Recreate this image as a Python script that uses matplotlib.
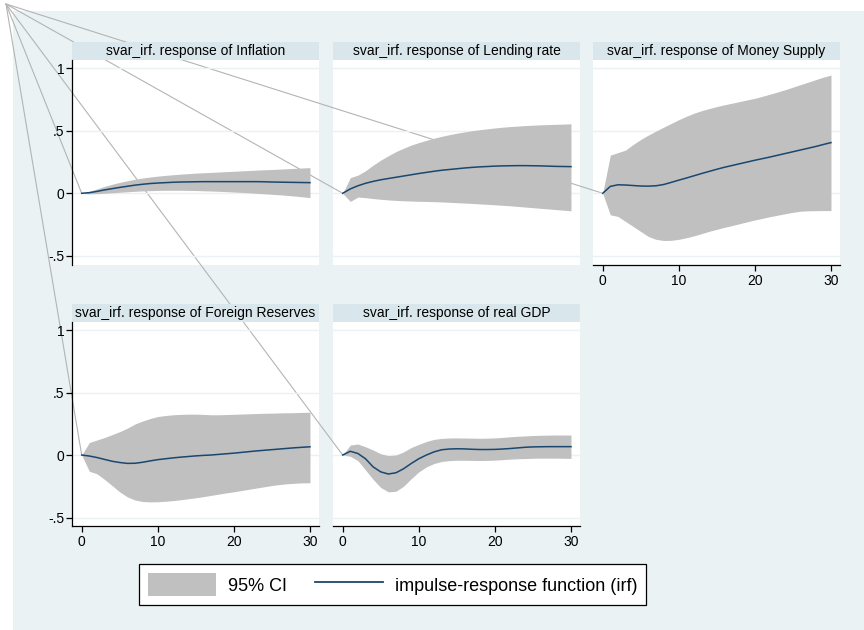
import matplotlib
matplotlib.use('Agg')
import matplotlib.pyplot as plt
from matplotlib.patches import Rectangle, ConnectionPatch, Patch
from matplotlib.lines import Line2D

plt.rcParams['font.family'] = ['Liberation Sans', 'DejaVu Sans']

# ---------------- data ----------------
steps = list(range(31))

titles = ["svar_irf. response of Inflation",
          "svar_irf. response of Lending rate",
          "svar_irf. response of Money Supply",
          "svar_irf. response of Foreign Reserves",
          "svar_irf. response of real GDP"]

irf_inflation = [0, 0.005, 0.015, 0.027, 0.037, 0.047, 0.056, 0.065, 0.072, 0.078, 0.082,
                 0.085, 0.088, 0.090, 0.091, 0.092, 0.093, 0.093, 0.093, 0.093, 0.093,
                 0.093, 0.093, 0.093, 0.092, 0.090, 0.089, 0.088, 0.087, 0.086, 0.085]
up_inflation = [0, 0.015, 0.035, 0.055, 0.072, 0.087, 0.100, 0.112, 0.122, 0.130, 0.137,
                0.143, 0.148, 0.153, 0.157, 0.161, 0.164, 0.167, 0.170, 0.173, 0.176,
                0.179, 0.182, 0.185, 0.188, 0.190, 0.193, 0.196, 0.199, 0.202, 0.205]
lo_inflation = [0, -0.005, -0.003, 0.000, 0.004, 0.008, 0.012, 0.016, 0.019, 0.021, 0.023,
                0.024, 0.024, 0.024, 0.023, 0.022, 0.020, 0.018, 0.016, 0.013, 0.010,
                0.007, 0.004, 0.000, -0.004, -0.008, -0.012, -0.017, -0.022, -0.028, -0.035]

irf_lending = [0, 0.035, 0.060, 0.080, 0.095, 0.108, 0.118, 0.128, 0.138, 0.148, 0.158,
               0.167, 0.176, 0.184, 0.190, 0.196, 0.202, 0.207, 0.211, 0.214, 0.217,
               0.219, 0.220, 0.221, 0.221, 0.220, 0.219, 0.217, 0.215, 0.214, 0.213]
up_lending = [0, 0.125, 0.145, 0.180, 0.225, 0.265, 0.300, 0.333, 0.360, 0.385, 0.405,
              0.423, 0.440, 0.455, 0.468, 0.480, 0.490, 0.500, 0.508, 0.515, 0.522,
              0.528, 0.533, 0.537, 0.541, 0.544, 0.547, 0.549, 0.551, 0.553, 0.555]
lo_lending = [0, -0.065, -0.030, -0.035, -0.042, -0.048, -0.053, -0.057, -0.060, -0.062, -0.064,
              -0.065, -0.067, -0.069, -0.072, -0.075, -0.078, -0.081, -0.085, -0.088, -0.092,
              -0.096, -0.100, -0.105, -0.110, -0.115, -0.120, -0.125, -0.130, -0.135, -0.140]

irf_money = [0, 0.055, 0.068, 0.066, 0.062, 0.058, 0.057, 0.060, 0.070, 0.087, 0.105,
             0.122, 0.140, 0.158, 0.175, 0.192, 0.208, 0.222, 0.236, 0.250, 0.264,
             0.277, 0.290, 0.304, 0.318, 0.332, 0.346, 0.360, 0.374, 0.390, 0.405]
up_money = [0, 0.305, 0.325, 0.345, 0.390, 0.430, 0.465, 0.497, 0.528, 0.558, 0.588,
            0.615, 0.640, 0.660, 0.677, 0.693, 0.707, 0.720, 0.733, 0.746, 0.759,
            0.775, 0.792, 0.810, 0.828, 0.848, 0.868, 0.888, 0.908, 0.928, 0.945]
lo_money = [0, -0.172, -0.185, -0.225, -0.265, -0.305, -0.345, -0.368, -0.377, -0.376, -0.368,
            -0.355, -0.340, -0.322, -0.304, -0.288, -0.272, -0.258, -0.243, -0.228, -0.213,
            -0.200, -0.187, -0.175, -0.163, -0.152, -0.143, -0.140, -0.139, -0.138, -0.138]

irf_reserves = [0, -0.008, -0.020, -0.035, -0.050, -0.060, -0.067, -0.066, -0.058, -0.047, -0.037,
                -0.030, -0.023, -0.017, -0.012, -0.007, -0.003, 0.000, 0.005, 0.010, 0.015,
                0.021, 0.027, 0.033, 0.038, 0.043, 0.048, 0.053, 0.058, 0.062, 0.066]
up_reserves = [0, 0.100, 0.120, 0.140, 0.163, 0.187, 0.215, 0.248, 0.272, 0.292, 0.308,
               0.316, 0.322, 0.325, 0.327, 0.327, 0.325, 0.322, 0.322, 0.324, 0.326,
               0.328, 0.330, 0.332, 0.334, 0.335, 0.337, 0.338, 0.339, 0.341, 0.342]
lo_reserves = [0, -0.130, -0.150, -0.195, -0.245, -0.295, -0.335, -0.360, -0.372, -0.375, -0.374,
               -0.370, -0.365, -0.358, -0.350, -0.342, -0.333, -0.323, -0.313, -0.303, -0.294,
               -0.284, -0.274, -0.264, -0.254, -0.244, -0.236, -0.230, -0.226, -0.223, -0.222]

irf_gdp = [0, 0.030, 0.012, -0.030, -0.095, -0.135, -0.152, -0.142, -0.110, -0.068, -0.030,
           0.000, 0.025, 0.042, 0.048, 0.050, 0.049, 0.046, 0.044, 0.044, 0.045,
           0.048, 0.052, 0.057, 0.062, 0.065, 0.066, 0.067, 0.067, 0.067, 0.067]
up_gdp = [0, 0.080, 0.088, 0.066, 0.040, 0.010, -0.005, 0.000, 0.025, 0.060, 0.085,
          0.108, 0.125, 0.133, 0.136, 0.137, 0.136, 0.135, 0.134, 0.135, 0.137,
          0.141, 0.146, 0.150, 0.153, 0.156, 0.158, 0.159, 0.160, 0.160, 0.160]
lo_gdp = [0, -0.010, -0.045, -0.120, -0.195, -0.260, -0.295, -0.290, -0.250, -0.190, -0.135,
          -0.095, -0.068, -0.052, -0.045, -0.042, -0.042, -0.043, -0.044, -0.043, -0.041,
          -0.037, -0.033, -0.030, -0.028, -0.026, -0.025, -0.025, -0.025, -0.026, -0.027]

yticks = [-0.5, 0, 0.5, 1]
ytick_labels = ["-.5", "0", ".5", "1"]
xticks = [0, 10, 20, 30]
xtick_labels = ["0", "10", "20", "30"]
legend_labels = ["95% CI", "impulse-response function (irf)"]

# ---------------- style ----------------
BG = '#EAF2F3'
BAR = '#D9E6EB'
BAND = '#C0C0C0'
NAVY = '#1A476F'
CONN = '#B4B4B4'

W, H = 864, 630
fig = plt.figure(figsize=(W / 100, H / 100), dpi=100, facecolor='white')
fig.add_artist(Rectangle((13 / W, 0), 1 - 13 / W, 1 - 11 / H, transform=fig.transFigure,
                         facecolor=BG, edgecolor='none', zorder=-3))

col_left = [72.3, 333.3, 593.3]
pw = 246.5
row_top = [60.0, 322.3]
row_bot = [265.0, 526.0]
bar_h = 18.5

panels = [
    (0, 0, titles[0], irf_inflation, lo_inflation, up_inflation, True, False),
    (0, 1, titles[1], irf_lending, lo_lending, up_lending, False, False),
    (0, 2, titles[2], irf_money, lo_money, up_money, False, True),
    (1, 0, titles[3], irf_reserves, lo_reserves, up_reserves, True, True),
    (1, 1, titles[4], irf_gdp, lo_gdp, up_gdp, False, True),
]

corner = (6, H - 4)

for r, c, title, irf, lo, up, show_y, show_x in panels:
    left = col_left[c]
    top = row_top[r]
    bot = row_bot[r]
    ph = bot - top
    ax = fig.add_axes([left / W, 1 - bot / H, pw / W, ph / H])
    ax.set_facecolor('none')
    fig.add_artist(Rectangle((0, 0), 1, 1, transform=ax.transAxes, facecolor='white',
                             edgecolor='none', zorder=-2))
    ax.fill_between(steps, lo, up, color=BAND, linewidth=0, zorder=2)
    ax.plot(steps, irf, color=NAVY, linewidth=1.1, zorder=3)
    ax.set_xlim(-1.235, 31.16)
    if r == 0:
        ax.set_ylim(-0.573, 1.065)
    else:
        ax.set_ylim(-0.568, 1.062)
    ax.set_yticks(yticks)
    ax.set_yticklabels(ytick_labels)
    ax.set_xticks(xticks)
    ax.set_xticklabels(xtick_labels)
    ax.yaxis.grid(True, color=BG, linewidth=1.0)
    ax.set_axisbelow(True)
    for s in ax.spines.values():
        s.set_visible(False)
    if show_y:
        ax.spines['left'].set_visible(True)
        ax.spines['left'].set_color('black')
        ax.spines['left'].set_linewidth(0.9)
        ax.tick_params(axis='y', length=4, width=0.9, pad=1.5, labelsize=10, direction='out')
    else:
        ax.tick_params(axis='y', left=False, labelleft=False)
    if show_x:
        ax.spines['bottom'].set_visible(True)
        ax.spines['bottom'].set_color('black')
        ax.spines['bottom'].set_linewidth(0.9)
        ax.tick_params(axis='x', length=4, width=0.9, pad=2.2, labelsize=10, direction='out')
    else:
        ax.tick_params(axis='x', bottom=False, labelbottom=False)
    hf = bar_h / ph
    ax.add_patch(Rectangle((0, 1), 1, hf, transform=ax.transAxes, facecolor=BAR,
                           edgecolor='none', clip_on=False))
    ax.text(0.5, 1 + hf / 2, title, transform=ax.transAxes, ha='center', va='center',
            fontsize=10, color='black')
    cp = ConnectionPatch(xyA=corner, coordsA='figure pixels',
                         xyB=(steps[0], irf[0]), coordsB=ax.transData,
                         color=CONN, linewidth=0.8, zorder=-1)
    fig.add_artist(cp)

handles = [Patch(facecolor=BAND, edgecolor='none'), Line2D([], [], color=NAVY, linewidth=1.3)]
leg = fig.legend(handles=handles, labels=legend_labels, ncol=2, loc='center',
                 bbox_to_anchor=(392.3 / W, 1 - 584.6 / H), frameon=True, fancybox=False,
                 edgecolor='black', facecolor='white', framealpha=1, fontsize=13,
                 handlelength=3.8, handleheight=1.59, handletextpad=0.63,
                 columnspacing=1.55, borderpad=0.49, borderaxespad=0)
leg.get_frame().set_linewidth(0.9)

fig.savefig('out.png', dpi=100, facecolor=fig.get_facecolor())
